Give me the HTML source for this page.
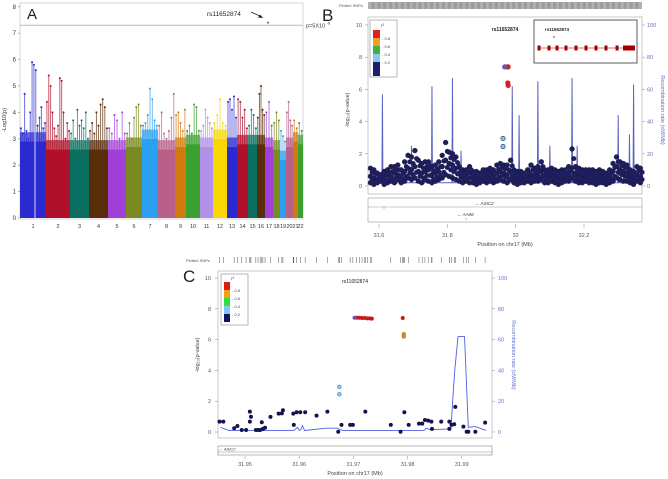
<!DOCTYPE html>
<html><head><meta charset="utf-8"><style>
html,body{margin:0;padding:0;background:#fff;}
svg{display:block;font-family:"Liberation Sans",sans-serif;}
</style></head><body>
<svg id="fig" width="668" height="479" viewBox="0 0 668 479" xmlns="http://www.w3.org/2000/svg">
<g id="pa"></g>
<g id="pb"></g>
<g id="pc"></g>
</svg>
<script>
// ---------- Panel A data ----------
const chrNames=["1","2","3","4","5","6","7","8","9","10","11","12","13","14","15","16","17","18","19","20","21","22"];
const chrColors=["#2a2ad0","#b0102a","#0a6e60","#5a2d0a","#a040d8","#7a8a20","#2aa0f0","#b86088","#d07a10","#3aa030","#b090e8","#f8d800","#2a2ad0","#b0102a","#0a6e60","#5a2d0a","#a040d8","#7a8a20","#2aa0f0","#b86088","#d07a10","#3aa030"];
const chrLengths=[26,24,19,19,18,16,16,17,11,14,13,14,10,11,9,8,8,7,6,7,5,5];
const chrSolid=[2.9,2.6,2.6,2.6,2.6,2.7,3.0,2.6,2.7,2.8,2.7,3.0,2.7,2.8,2.8,2.8,2.7,2.6,2.2,2.7,2.9,2.8];
const chrPeaks=[[3.4,3.2,4.7,3.3,3.0,4.0,5.9,5.8,5.6,3.5,3.8,4.2,3.4,3.6],[4.4,5.4,5.0,4.0,3.4,3.1,3.5,5.3,5.2,4.0,3.0,3.6,3.3],[3.2,3.7,3.0,4.1,3.5,3.7,3.4,4.0,3.0],[3.3,3.6,3.2,4.0,3.5,4.3,4.5,4.2,3.4],[3.4,3.2,3.9,3.7,3.0,4.0,3.2],[3.2,3.6,3.0,3.8,4.2,4.3,3.5],[3.5,3.6,3.9,4.9,4.5,3.7,3.5],[3.5,4.0,3.2,3.0,3.3,3.8,4.7],[3.9,4.0,3.6,3.3,4.1],[3.3,3.5,3.2,4.3,4.2,3.3],[3.3,3.5,4.1,3.8,3.6,3.4],[3.6,3.9,4.5,3.6,3.5],[4.4,4.5,4.1,4.6,3.8],[4.5,4.4,3.8,4.1,3.4],[3.5,4.1,3.9,3.4],[3.8,4.7,5.0,4.1,3.9],[4.0,4.4,3.5],[3.6,4.0,3.7],[3.3,3.1,2.9],[4.0,4.4,3.7,3.5],[3.7,3.4],[3.6,3.3]];
const aTicks=[0,1,2,3,4,5,6,7,8];
const aThreshold=7.3;
const aHit=7.4;

// ---------- Panel B data ----------
const bPos=[31.575,31.585,31.595,31.605,31.615,31.625,31.635,31.645,31.655,31.665,31.675,31.685,31.695,31.705,31.715,31.725,31.735,31.745,31.755,31.765,31.775,31.785,31.795,31.805,31.815,31.825,31.835,31.845,31.855,31.865,31.875,31.885,31.895,31.905,31.915,31.925,31.935,31.945,31.955,31.965,31.975,31.985,31.995,32.005,32.015,32.025,32.035,32.045,32.055,32.065,32.075,32.085,32.095,32.105,32.115,32.125,32.135,32.145,32.155,32.165,32.175,32.185,32.195,32.205,32.215,32.225,32.235,32.245,32.255,32.265,32.275,32.285,32.295,32.305,32.315,32.325,32.335,32.345,32.355,32.365];
const bTop=[1.1,1.0,0.8,0.7,0.9,1.0,1.2,1.2,1.3,1.0,1.5,1.9,1.8,2.2,1.6,1.4,1.5,1.5,1.2,1.3,1.5,1.9,2.7,2.1,2.0,1.8,1.2,1.0,1.0,1.2,0.9,0.9,0.8,1.0,1.0,1.1,1.0,1.3,1.4,1.3,1.3,1.6,1.0,0.9,0.9,0.8,1.0,1.3,1.1,1.2,1.5,1.0,1.0,1.1,1.0,0.9,1.0,1.0,1.2,2.3,1.2,1.1,1.0,1.0,1.0,1.0,0.9,1.0,0.9,0.8,1.0,1.4,1.8,1.5,1.4,1.3,1.0,0.9,1.2,1.1];
const bMid=[0.6,0.5,0.4,0.6,0.5,0.7,0.6,0.8,0.7,0.6,0.9,1.1,1.0,1.2,0.9,0.8,0.9,1.0,0.7,0.8,0.9,1.2,1.6,1.4,1.3,1.1,0.8,0.6,0.7,0.8,0.6,0.5,0.5,0.6,0.7,0.6,0.6,0.8,0.9,0.8,0.7,0.9,0.6,0.5,0.6,0.5,0.6,0.7,0.7,0.8,0.9,0.6,0.6,0.7,0.6,0.5,0.6,0.6,0.7,1.1,0.7,0.7,0.6,0.6,0.7,0.6,0.5,0.6,0.5,0.5,0.6,0.9,1.2,1.0,0.9,0.8,0.6,0.5,0.7,0.6];
const bLow=[0.2,0.1,0.2,0.3,0.1,0.2,0.3,0.2,0.4,0.2,0.3,0.5,0.4,0.5,0.3,0.2,0.4,0.3,0.2,0.3,0.4,0.5,0.7,0.6,0.5,0.4,0.3,0.2,0.3,0.2,0.2,0.1,0.2,0.3,0.2,0.3,0.2,0.3,0.4,0.3,0.2,0.4,0.2,0.1,0.2,0.2,0.3,0.2,0.3,0.3,0.4,0.2,0.2,0.3,0.2,0.1,0.2,0.3,0.3,0.5,0.3,0.2,0.2,0.3,0.2,0.2,0.1,0.2,0.2,0.1,0.2,0.3,0.5,0.4,0.3,0.3,0.2,0.1,0.3,0.2];
const bHitPos=[31.975,31.978,31.977,31.978];
const bHitVal=[7.4,7.4,6.4,6.25];
const bLbPos=[31.963,31.963];
const bLbVal=[2.95,2.45];
const bLeadPos=31.968, bLeadVal=7.4;
const bSpikePos=[31.61,31.695,31.755,31.815,31.84,31.93,31.99,32.01,32.04,32.065,32.1,32.165,32.18,32.3,32.333,32.345,32.365];
const bSpikeVal=[57,25,62,67,22,10,62,44,14,65,25,67,25,44,32,63,12];
const bXTicks=[31.6,31.8,32,32.2];
const bYTicks=[0,2,4,6,8,10];
const bRTicks=[0,20,40,60,80,100];

// ---------- Panel C data ----------
const cPos=[31.9453,31.946,31.948,31.9486,31.9494,31.9502,31.9509,31.9511,31.9509,31.952,31.9524,31.9528,31.9531,31.9533,31.9537,31.9547,31.9562,31.9568,31.957,31.959,31.9589,31.9595,31.9602,31.9611,31.9632,31.9652,31.9672,31.9678,31.9694,31.9699,31.9722,31.9769,31.9787,31.9794,31.9802,31.9821,31.9827,31.9832,31.9838,31.9844,31.9845,31.9862,31.9877,31.9877,31.9881,31.9888,31.9886,31.9903,31.9909,31.9912,31.9925,31.9943];
const cVal=[0.67,0.67,0.24,0.39,0.13,0.13,1.32,0.99,0.67,0.13,0.13,0.13,0.63,0.2,0.28,0.98,1.19,1.21,1.41,0.46,1.19,1.28,1.28,1.28,1.06,1.32,0.02,0.46,0.46,0.46,1.32,0.46,0.02,1.28,0.46,0.54,0.54,0.78,0.74,0.67,0.2,0.67,0.67,0.2,0.46,1.63,0.5,0.35,0.02,0.02,0.02,0.61];
const cRedPos=[31.9706,31.9711,31.9716,31.9721,31.9726,31.9731,31.9734,31.9791];
const cRedVal=[7.42,7.42,7.4,7.4,7.38,7.38,7.36,7.4];
const cOrPos=[31.9793,31.9793];
const cOrVal=[6.35,6.2];
const cLbPos=[31.9674,31.9674];
const cLbVal=[2.93,2.45];
const cLeadPos=31.9702, cLeadVal=7.42;
const cRecPos=[31.9455,31.947,31.959,31.9597,31.96,31.9603,31.9606,31.961,31.965,31.967,31.968,31.983,31.9835,31.984,31.988,31.9884,31.9887,31.9893,31.9905,31.9912,31.9925,31.9945];
const cRecVal=[3,1,1,3,1,1.5,4,1,2.5,2.5,1,1,2.5,1.5,2,25,40,62,62,3,3.5,1];
const cXTicks=[31.95,31.96,31.97,31.98,31.99];
const cYTicks=[0,2,4,6,8,10];
const cRTicks=[0,20,40,60,80,100];

const NS="http://www.w3.org/2000/svg";
function mk(parent,tag,attrs,text){const e=document.createElementNS(NS,tag);for(const k in attrs)e.setAttribute(k,attrs[k]);if(text!==undefined)e.textContent=text;parent.appendChild(e);return e;}

// ================= Panel A =================
const pa=document.getElementById('pa');
const aX0=20,aX1=303,aY0=218,aU=26.4;
const ay=v=>aY0-v*aU;
const totalLen=chrLengths.reduce((s,v)=>s+v,0);
const ax=f=>aX0+f*(aX1-aX0)/totalLen;
let frame=mk(pa,'rect',{x:aX0,y:3,width:aX1-aX0,height:aY0-3+1,fill:'#fff',stroke:'#ccc','stroke-width':0.8});


let cum=0;
chrLengths.forEach((len,i)=>{
  const x0=ax(cum),x1=ax(cum+len);
  const g=mk(pa,'g',{});
  
  
  mk(g,'rect',{x:x0,y:ay(chrSolid[i]),width:x1-x0,height:aY0-ay(chrSolid[i]),fill:chrColors[i]});
  mk(g,'rect',{x:x0,y:ay(chrSolid[i]+0.35),width:x1-x0,height:ay(chrSolid[i])-ay(chrSolid[i]+0.35),fill:chrColors[i],opacity:0.7});
  const pk=chrPeaks[i];
  pk.forEach((v,j)=>{
    const px=x0+(j+0.5)*(x1-x0)/pk.length;
    mk(g,'line',{x1:px,x2:px,y1:ay(chrSolid[i]),y2:ay(v),stroke:chrColors[i],'stroke-width':0.9,opacity:0.75});
    mk(g,'circle',{cx:px,cy:ay(v),r:1,fill:chrColors[i]});
  });
  const lab=mk(pa,'text',{x:(x0+x1)/2,y:228,'font-size':5.5,'text-anchor':'middle',fill:'#333'},chrNames[i]);
  
  
  cum+=len;
});
mk(pa,'line',{x1:35,x2:35,y1:ay(3.6),y2:aY0,stroke:'#fff','stroke-width':0.8});
aTicks.forEach(t=>{
  mk(pa,'line',{x1:aX0-2,x2:aX0,y1:ay(t),y2:ay(t),stroke:'#666','stroke-width':0.5});
  const tl=mk(pa,'text',{x:aX0-4,y:ay(t)+2,'font-size':6,'text-anchor':'end',fill:'#333'},String(t));
  
  
});
let ayl=mk(pa,'text',{x:6,y:120,'font-size':5.5,'text-anchor':'middle',fill:'#333',transform:'rotate(-90 6 120)'},'-Log10(p)');


let thr=mk(pa,'line',{x1:aX0,x2:aX1,y1:ay(aThreshold),y2:ay(aThreshold),stroke:'#bbb','stroke-width':1});


let thrl=mk(pa,'text',{x:306,y:ay(aThreshold)+2,'font-size':5.5,fill:'#333'},'p=5X10');


mk(pa,'text',{x:327,y:ay(aThreshold)-1,'font-size':3.5,fill:'#333'},'-8');
let la=mk(pa,'text',{x:27,y:19,'font-size':15,fill:'#222'},'A');


let hitl=mk(pa,'text',{x:207,y:16,'font-size':6.5,fill:'#222'},'rs11652874');


mk(pa,'line',{x1:251,y1:12,x2:262,y2:17,stroke:'#222','stroke-width':0.8});
mk(pa,'polygon',{points:'263,18 258,17.5 260,14.5',fill:'#222'});
let hit=mk(pa,'circle',{cx:268,cy:ay(aHit),r:1,fill:'#a040d8'});



// ================= Panel B =================
const pb=document.getElementById('pb');
const bx=m=>379+(m-31.6)*341.7;
const by=v=>186-v*16.1;
const br=r=>186-r*1.61;
let lb=mk(pb,'text',{x:322,y:21,'font-size':17,fill:'#222'},'B');


let psb=mk(pb,'text',{x:339,y:7,'font-size':4,fill:'#555'},'Plotted SNPs');


const strip=mk(pb,'g',{});


bPos.forEach((m,i)=>{
  [0,0.0025,0.005,0.0075].forEach(d=>{mk(strip,'line',{x1:bx(m-0.005+d),x2:bx(m-0.005+d),y1:2,y2:9,stroke:'#666','stroke-width':0.5});});
});
let bfr=mk(pb,'rect',{x:368,y:17,width:274,height:177,fill:'none',stroke:'#bbb','stroke-width':0.8});


let d=`M${bx(31.57)},${br(2)}`;
bSpikePos.forEach((p,i)=>{d+=` L${bx(p-0.0015)},${br(2)} L${bx(p)},${br(bSpikeVal[i])} L${bx(p+0.0015)},${br(2)}`;});
d+=` L${bx(32.37)},${br(2)}`;
let brc=mk(pb,'path',{d:d,fill:'none',stroke:'#5a64c0','stroke-width':1});


const bpts=mk(pb,'g',{});


[bLow,bMid,bTop].forEach(arr=>{
  bPos.forEach((m,i)=>{mk(bpts,'circle',{cx:bx(m),cy:by(arr[i]),r:2.5,fill:'#1e1e5e',stroke:'#111','stroke-width':0.3});});
});
bPos.forEach((m,i)=>{mk(bpts,'circle',{cx:bx(m+0.005),cy:by((bLow[i]+bMid[i])/2),r:2.5,fill:'#1e1e5e'});});
bPos.forEach((m,i)=>{mk(bpts,'circle',{cx:bx(m+0.005),cy:by((bMid[i]+bTop[i])/2),r:2.5,fill:'#1e1e5e'});});
bLbPos.forEach((m,i)=>{const c=mk(pb,'circle',{cx:bx(m),cy:by(bLbVal[i]),r:2.2,fill:'#88c8e8',stroke:'#1e1e5e','stroke-width':0.6});
  
  });
bHitPos.forEach((m,i)=>{const c=mk(pb,'circle',{cx:bx(m),cy:by(bHitVal[i]),r:2.6,fill:'#d42020'});
  
  });
let bl=mk(pb,'circle',{cx:bx(bLeadPos),cy:by(bLeadVal),r:2.6,fill:'#7050b0'});


let bll=mk(pb,'text',{x:505,y:31,'font-size':5,'font-weight':'bold','text-anchor':'middle',fill:'#222'},'rs11652874');


bYTicks.forEach(t=>{mk(pb,'line',{x1:365,x2:368,y1:by(t),y2:by(t),stroke:'#888','stroke-width':0.5});
  const tl=mk(pb,'text',{x:362,y:by(t)+2,'font-size':5.5,'text-anchor':'end',fill:'#555'},String(t));
  
  });
bRTicks.forEach(t=>{mk(pb,'line',{x1:642,x2:645,y1:br(t),y2:br(t),stroke:'#88a','stroke-width':0.5});
  const tl=mk(pb,'text',{x:647,y:br(t)+2,'font-size':5.5,fill:'#6670b8'},String(t));
  
  });
let byl=mk(pb,'text',{x:349,y:110,'font-size':5.5,'text-anchor':'middle',fill:'#444',transform:'rotate(-90 349 110)'},'-log\u2081\u2080(p-value)');


let bry=mk(pb,'text',{x:661,y:110,'font-size':5.5,'text-anchor':'middle',fill:'#6670b8',transform:'rotate(90 661 110)'},'Recombination rate (cM/Mb)');


const bleg=mk(pb,'g',{});


mk(bleg,'rect',{x:370,y:20,width:27,height:57,fill:'#fff',stroke:'#888','stroke-width':0.6});
mk(bleg,'text',{x:381,y:27,'font-size':4.5,fill:'#444','font-style':'italic'},'r\u00b2');
[['#e02020',30],['#f0a020',38],['#40b040',46],['#88c8ec',54],['#1e1e6e',62]].forEach(([c,y],i)=>mk(bleg,'rect',{x:373,y:y,width:7,height:i==4?14:8,fill:c}));
['0.8','0.6','0.4','0.2'].forEach((t,i)=>mk(bleg,'text',{x:382,y:40+i*8,'font-size':4,fill:'#444'},'- '+t));
const ins=mk(pb,'g',{});


mk(ins,'rect',{x:534,y:20,width:103,height:43,fill:'#fff',stroke:'#333','stroke-width':0.8});
mk(ins,'text',{x:545,y:31,'font-size':4.5,'font-weight':'bold',fill:'#222'},'rs11652874');
mk(ins,'circle',{cx:554,cy:37,r:0.7,fill:'#222'});
mk(ins,'line',{x1:538,x2:633,y1:48,y2:48,stroke:'#e06060','stroke-width':1.5,opacity:0.6});
[539,549,557,566,576,586,596,606,617].forEach(x=>{mk(ins,'rect',{x:x-1.5,y:45.5,width:3,height:5,fill:'#a00000'});});
mk(ins,'rect',{x:623,y:45.5,width:12,height:5,fill:'#a00000'});
const bg=mk(pb,'g',{});


mk(bg,'rect',{x:368,y:198,width:274,height:24,fill:'#fff',stroke:'#999','stroke-width':0.6});
mk(bg,'line',{x1:368,x2:642,y1:207,y2:207,stroke:'#999','stroke-width':0.5});
mk(bg,'text',{x:475,y:205,'font-size':4.5,fill:'#333','font-style':'italic'},'\u2190 ASIC2');
mk(bg,'text',{x:457,y:216,'font-size':4.5,fill:'#333','font-style':'italic'},'\u2190 AA06');
mk(bg,'circle',{cx:384,cy:208,r:0.5,fill:'#333'});
mk(bg,'circle',{cx:466,cy:219,r:0.5,fill:'#333'});
bXTicks.forEach(t=>{mk(pb,'line',{x1:bx(t),x2:bx(t),y1:224,y2:228,stroke:'#888','stroke-width':0.5});
  const tl=mk(pb,'text',{x:bx(t),y:237,'font-size':5.5,'text-anchor':'middle',fill:'#555'},String(t));
  
  });
let bxt=mk(pb,'text',{x:505,y:246,'font-size':5.5,'text-anchor':'middle',fill:'#444'},'Position on chr17 (Mb)');



// ================= Panel C =================
const pc=document.getElementById('pc');
const cx=m=>245+(m-31.95)*5420;
const cy=v=>432-v*15.4;
const cr=r=>432-r*1.54;
let lc=mk(pc,'text',{x:183,y:282,'font-size':17,fill:'#222'},'C');


let psc=mk(pc,'text',{x:186,y:262,'font-size':4,fill:'#555'},'Plotted SNPs');


const cstrip=mk(pc,'g',{});


cPos.concat(cRedPos,cLbPos,cOrPos).forEach(m=>{mk(cstrip,'line',{x1:cx(m),x2:cx(m),y1:257,y2:263,stroke:'#555','stroke-width':0.5});});
let cfr=mk(pc,'rect',{x:218,y:271,width:274,height:167,fill:'none',stroke:'#bbb','stroke-width':0.8});


let cd='M'+cRecPos.map((p,i)=>cx(p)+','+cr(cRecVal[i])).join(' L');
let crc=mk(pc,'path',{d:cd,fill:'none',stroke:'#5060e0','stroke-width':0.9});


cPos.forEach((m,i)=>{const c=mk(pc,'circle',{cx:cx(m),cy:cy(cVal[i]),r:2,fill:'#141450'});
  
  });
cLbPos.forEach((m,i)=>{const c=mk(pc,'circle',{cx:cx(m),cy:cy(cLbVal[i]),r:2,fill:'#80c8ec',stroke:'#3a6a9a','stroke-width':0.4});
  
  });
cOrPos.forEach((m,i)=>{const c=mk(pc,'circle',{cx:cx(m),cy:cy(cOrVal[i]),r:2,fill:'#d89020',stroke:'#8a5a10','stroke-width':0.3});
  
  });
cRedPos.forEach((m,i)=>{const c=mk(pc,'circle',{cx:cx(m),cy:cy(cRedVal[i]),r:2,fill:'#c81818'});
  
  });
let cl=mk(pc,'circle',{cx:cx(cLeadPos),cy:cy(cLeadVal),r:2,fill:'#7050c0'});


let cll=mk(pc,'text',{x:355,y:283,'font-size':5,'text-anchor':'middle',fill:'#222'},'rs11652874');


cYTicks.forEach(t=>{mk(pc,'line',{x1:215,x2:218,y1:cy(t),y2:cy(t),stroke:'#888','stroke-width':0.5});
  const tl=mk(pc,'text',{x:211,y:cy(t)+2,'font-size':5.5,'text-anchor':'end',fill:'#555'},String(t));
  
  });
cRTicks.forEach(t=>{mk(pc,'line',{x1:492,x2:495,y1:cr(t),y2:cr(t),stroke:'#88a','stroke-width':0.5});
  const tl=mk(pc,'text',{x:498,y:cr(t)+2,'font-size':5.5,fill:'#6670d8'},String(t));
  
  });
let cyl=mk(pc,'text',{x:199,y:355,'font-size':5.5,'text-anchor':'middle',fill:'#444',transform:'rotate(-90 199 355)'},'-log\u2081\u2080(p-value)');


let cry=mk(pc,'text',{x:512,y:355,'font-size':5.5,'text-anchor':'middle',fill:'#6670d8',transform:'rotate(90 512 355)'},'Recombination rate (cM/Mb)');


const cleg=mk(pc,'g',{});


mk(cleg,'rect',{x:221,y:274,width:27,height:51,fill:'#fff',stroke:'#888','stroke-width':0.6});
mk(cleg,'text',{x:231,y:280,'font-size':4.5,fill:'#444','font-style':'italic'},'r\u00b2');
[['#e01818',282],['#f0a018',290],['#30e040',298],['#80c8f0',306],['#10106a',314]].forEach(([c,y],i)=>mk(cleg,'rect',{x:224,y:y,width:6,height:8,fill:c}));
['0.8','0.6','0.4','0.2'].forEach((t,i)=>mk(cleg,'text',{x:232,y:292+i*8,'font-size':4,fill:'#444'},'- '+t));
const cg=mk(pc,'g',{});


mk(cg,'rect',{x:218,y:446,width:274,height:9,fill:'#fff',stroke:'#888','stroke-width':0.6});
mk(cg,'line',{x1:218,x2:492,y1:452,y2:452,stroke:'#888','stroke-width':0.5});
mk(cg,'text',{x:219,y:450.5,'font-size':4,fill:'#333','font-style':'italic'},'\u2190 ASIC2');
cXTicks.forEach(t=>{mk(pc,'line',{x1:cx(t),x2:cx(t),y1:456,y2:459,stroke:'#888','stroke-width':0.5});
  const tl=mk(pc,'text',{x:cx(t),y:466,'font-size':5.5,'text-anchor':'middle',fill:'#555'},t.toFixed(2));
  
  });
let cxt=mk(pc,'text',{x:355,y:475,'font-size':5.5,'text-anchor':'middle',fill:'#444'},'Position on chr17 (Mb)');


</script>
</body></html>
